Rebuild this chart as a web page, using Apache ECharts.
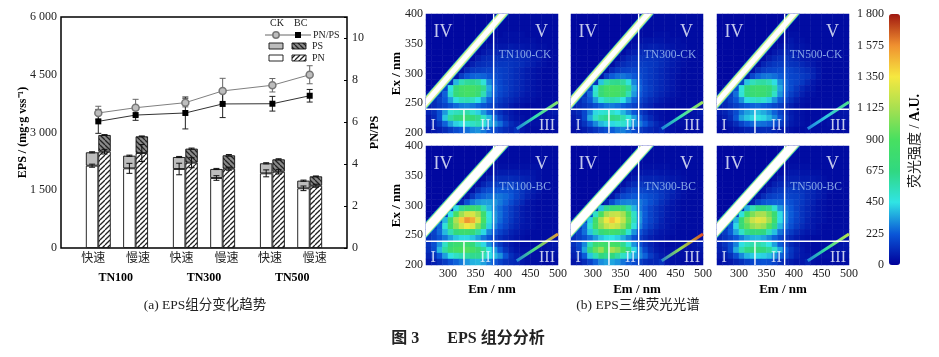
<!DOCTYPE html>
<html>
<head>
<meta charset="utf-8">
<style>html,body{margin:0;padding:0;background:#fff}#chart{width:939px;height:357px}</style>
<script src="https://cdn.jsdelivr.net/npm/echarts@6/dist/echarts.min.js"></script>
</head>
<body>
<div id="chart"></div>
<script>
// 左图 EPS
var slots = ['', '', 'CK', 'BC', '', 'CK', 'BC', '', '', 'CK', 'BC', '', 'CK', 'BC', '', '', 'CK', 'BC', '', 'CK', 'BC', '', ''];
var ckSlots = [2, 5, 9, 12, 16, 19];
var bcSlots = [3, 6, 10, 13, 17, 20];
var pointX = [3, 6, 10, 13, 17, 20];
var speedX = [2.6, 6.2, 9.7, 13.3, 16.8, 20.4];
var speedNames = ['快速', '慢速', '快速', '慢速', '快速', '慢速'];
var groupX = [4.4, 11.5, 18.6];
var groupNames = ['TN100', 'TN300', 'TN500'];
var pnCK = [2138, 2069, 2052, 1818, 1939, 1550];
var psCK = [347, 328, 311, 234, 261, 199];
var pnBC = [2502, 2467, 2216, 2060, 1982, 1618];
var psBC = [433, 433, 364, 347, 321, 243];
var pnErrCK = [40, 130, 150, 60, 90, 60];
var pnErrBC = [60, 220, 130, 40, 60, 40];
var psErrCK = [15, 15, 15, 15, 15, 15];
var psErrBC = [10, 10, 15, 20, 15, 10];
var ratioCK = [6.43, 6.68, 6.92, 7.48, 7.75, 8.25];
var ratioBC = [6.03, 6.33, 6.43, 6.86, 6.87, 7.25];
var ratioErrCK = [0.32, 0.4, 0.2, 0.6, 0.32, 0.43];
var ratioErrBC = [0.57, 0.25, 0.76, 0.65, 0.35, 0.3];

// 右图 荧光, Ex 395->205 每行, Em 265->495 每列
var emCats = [265, 275, 285, 295, 305, 315, 325, 335, 345, 355, 365, 375, 385, 395, 405, 415, 425, 435, 445, 455, 465, 475, 485, 495];
var exCats = [395, 385, 375, 365, 355, 345, 335, 325, 315, 305, 295, 285, 275, 265, 255, 245, 235, 225, 215, 205];
var tn100ck = [
  [20,20,20,20,20,20,20,20,20,20,20,20,30,30,30,30,30,30,30,30,30,30,30,30],
  [20,20,20,20,20,20,20,20,20,20,20,20,30,30,30,30,30,30,30,30,30,30,30,30],
  [20,20,20,20,20,20,20,20,20,20,20,20,30,30,30,30,30,30,30,30,30,30,30,30],
  [20,20,20,20,20,20,20,20,20,20,20,30,30,30,40,40,40,40,30,30,30,30,30,30],
  [20,20,20,20,20,20,20,20,20,20,20,30,40,40,40,40,40,40,40,40,30,30,30,30],
  [20,20,20,20,20,20,20,20,20,20,30,50,60,60,60,70,60,60,50,50,40,40,30,30],
  [20,20,20,20,20,20,20,20,20,30,60,80,90,90,100,100,90,80,70,60,50,40,30,30],
  [20,20,20,20,20,20,20,20,30,70,100,110,120,120,120,120,110,100,90,70,60,40,30,30],
  [20,20,20,20,20,20,20,30,80,110,120,130,140,140,140,130,120,110,90,70,50,40,30,30],
  [20,20,20,20,20,20,40,100,140,150,160,170,170,160,150,130,110,90,70,50,40,30,30,30],
  [20,20,20,20,20,50,150,210,240,250,240,210,190,170,150,130,110,90,70,50,40,30,30,30],
  [20,20,20,40,120,380,560,620,640,600,480,300,220,180,150,130,110,90,70,50,40,30,30,30],
  [20,20,50,170,460,720,840,880,860,800,640,360,240,190,160,130,110,90,70,50,40,30,30,30],
  [40,70,130,240,500,720,820,860,840,760,560,330,230,180,150,120,100,80,60,50,40,30,30,30],
  [70,110,160,220,340,470,540,560,530,450,340,240,190,150,120,100,80,60,50,40,30,30,30,30],
  [80,110,140,170,210,250,280,290,270,240,210,180,150,120,100,70,50,40,30,30,30,30,30,30],
  [90,120,200,330,500,540,560,580,500,420,330,240,170,120,80,60,40,30,30,30,30,40,60,70],
  [60,100,200,400,600,680,720,760,720,640,520,380,260,170,110,70,50,40,30,30,40,40,50,50],
  [60,90,140,240,340,420,460,480,520,560,480,360,320,260,170,110,80,60,40,40,40,40,40,40],
  [40,60,80,110,150,190,220,260,300,320,280,220,180,140,110,90,120,60,40,30,30,30,30,30]
];
var tn300ck = [
  [20,20,20,20,20,20,20,20,20,20,20,20,30,30,30,30,30,30,30,30,30,30,30,30],
  [20,20,20,20,20,20,20,20,20,20,20,20,30,30,30,30,30,30,30,30,30,30,30,30],
  [20,20,20,20,20,20,20,20,20,20,20,20,30,30,30,30,30,30,30,30,30,30,30,30],
  [20,20,20,20,20,20,20,20,20,20,20,30,30,30,30,40,40,40,30,30,30,30,30,30],
  [20,20,20,20,20,20,20,20,20,20,20,30,40,50,50,50,50,40,40,40,30,30,30,30],
  [20,20,20,20,20,20,20,20,20,20,30,50,70,70,80,80,70,60,50,40,40,30,30,30],
  [20,20,20,20,20,20,20,20,20,30,60,80,100,110,110,100,90,80,70,50,40,30,30,30],
  [20,20,20,20,20,20,20,20,30,70,100,120,130,130,130,120,110,90,70,60,40,30,30,30],
  [20,20,20,20,20,20,20,30,80,110,130,140,150,150,140,130,110,90,70,50,40,30,30,30],
  [20,20,20,20,20,20,40,100,140,160,170,180,170,160,140,120,100,80,60,50,30,30,30,30],
  [20,20,20,20,20,50,160,230,260,270,250,220,190,160,140,120,100,80,60,40,30,30,30,30],
  [20,20,20,40,130,400,580,640,650,610,480,300,220,170,140,120,100,80,60,40,30,30,30,30],
  [20,20,50,180,480,740,860,900,880,810,640,360,240,180,150,120,100,80,60,40,30,30,30,30],
  [40,70,130,250,510,730,840,870,850,770,560,330,220,170,140,110,90,70,50,40,30,30,30,30],
  [70,110,160,220,340,480,550,570,540,450,340,240,180,140,110,90,70,50,40,30,30,30,30,30],
  [80,110,130,160,200,240,270,280,260,230,200,170,140,110,90,60,50,40,30,30,30,30,30,30],
  [80,110,180,290,430,480,500,510,450,380,300,220,150,110,70,50,40,30,30,30,30,40,50,70],
  [60,90,180,350,520,600,640,660,640,570,470,340,230,150,100,60,40,30,30,30,40,40,50,50],
  [50,80,130,210,300,380,420,430,480,500,430,320,280,220,150,100,70,50,40,40,40,40,40,40],
  [40,50,70,100,130,170,200,230,270,290,250,190,150,120,100,80,100,50,40,30,30,30,30,30]
];
var tn500ck = [
  [20,20,20,20,20,20,20,20,20,20,20,20,20,20,30,30,30,30,30,30,30,30,30,30],
  [20,20,20,20,20,20,20,20,20,20,20,20,20,20,30,30,30,30,30,30,30,30,30,30],
  [20,20,20,20,20,20,20,20,20,20,20,20,20,30,30,30,30,30,30,30,30,30,30,30],
  [20,20,20,20,20,20,20,20,20,20,20,20,30,40,40,30,30,30,30,30,30,30,30,30],
  [20,20,20,20,20,20,20,20,20,20,20,30,40,60,40,40,30,30,30,30,30,30,30,30],
  [20,20,20,20,20,20,20,20,20,20,30,50,70,70,50,50,40,30,30,30,30,30,30,30],
  [20,20,20,20,20,20,20,20,20,30,60,80,100,90,70,60,50,40,30,30,30,30,30,30],
  [20,20,20,20,20,20,20,20,30,70,100,120,130,110,90,70,60,50,40,30,30,30,30,30],
  [20,20,20,20,20,20,20,30,90,120,140,150,150,130,120,100,80,60,40,30,30,30,30,30],
  [20,20,20,20,20,20,40,110,150,170,180,190,190,170,150,130,110,80,50,30,30,30,30,30],
  [20,20,20,20,20,60,180,240,270,280,260,230,210,180,170,150,130,90,50,30,30,30,30,30],
  [20,20,20,50,160,400,540,590,600,560,440,310,240,190,170,140,100,60,40,30,30,30,30,30],
  [20,30,80,200,470,680,780,810,790,730,590,350,240,190,140,100,70,50,30,30,30,30,30,30],
  [50,90,150,260,480,670,760,790,770,690,520,320,220,160,120,80,50,40,30,30,30,30,30,30],
  [70,110,160,220,320,440,500,520,490,420,320,230,170,120,80,50,40,30,30,30,30,30,30,30],
  [80,100,130,160,190,220,240,250,230,210,180,150,110,80,50,40,30,30,30,30,30,30,30,30],
  [70,90,130,190,280,340,370,390,360,310,240,170,110,70,50,40,30,30,30,30,30,40,50,60],
  [50,70,110,210,340,400,430,460,430,380,300,210,130,80,50,40,30,30,30,30,40,40,50,50],
  [40,50,70,110,170,220,250,270,260,240,200,150,110,70,50,40,30,30,30,30,40,40,40,40],
  [30,30,40,50,70,90,100,110,110,110,90,70,60,40,30,30,40,30,30,30,30,30,30,30]
];
var tn100bc = [
  [20,20,20,20,20,20,20,20,20,20,20,20,30,30,30,30,30,30,30,30,30,30,30,30],
  [20,20,20,20,20,20,20,20,20,20,20,20,30,30,30,30,30,30,30,30,30,30,30,30],
  [20,20,20,20,20,20,20,20,20,20,20,20,30,30,30,30,30,30,30,30,30,30,30,30],
  [20,20,20,20,20,20,20,20,20,20,20,20,40,40,40,40,40,40,40,40,40,30,30,30],
  [20,20,20,20,20,20,20,20,20,20,20,40,60,70,70,70,70,60,60,50,40,30,30,30],
  [20,20,20,20,20,20,20,20,20,20,40,80,100,110,110,110,100,90,80,60,40,30,30,30],
  [20,20,20,20,20,20,20,20,20,40,90,130,150,160,160,160,140,120,90,70,50,30,30,30],
  [20,20,20,20,20,20,20,20,40,110,170,200,210,220,210,200,170,130,100,70,50,30,30,30],
  [20,20,20,20,20,20,20,50,130,210,240,260,270,270,250,220,170,130,90,60,40,30,30,30],
  [20,20,20,20,20,30,90,200,280,320,340,340,320,280,240,190,140,100,60,40,30,30,30,30],
  [20,20,20,30,100,430,640,760,800,740,560,380,300,250,200,150,110,70,50,40,30,30,30,30],
  [20,20,40,120,460,860,1100,1240,1260,1120,800,460,320,260,200,150,110,70,50,40,30,30,30,30],
  [20,60,160,380,800,1140,1420,1560,1500,1260,860,480,320,250,190,140,100,70,50,40,30,30,30,30],
  [70,130,240,480,820,1060,1240,1340,1280,1040,720,420,290,220,170,120,90,60,50,40,30,30,30,30],
  [110,170,250,380,560,700,780,800,740,600,430,300,220,170,130,90,70,50,40,30,30,30,30,30],
  [120,160,210,270,340,400,430,430,400,340,270,210,160,120,90,70,50,40,30,30,30,30,30,30],
  [130,200,320,520,700,780,800,800,700,560,430,310,210,140,90,60,40,30,30,30,30,40,50,60],
  [120,190,380,600,780,860,900,920,860,760,620,460,330,220,130,80,50,40,40,40,40,40,50,50],
  [90,130,220,340,460,520,560,600,640,640,560,440,380,320,210,120,80,60,40,40,40,40,40,40],
  [60,80,110,150,200,240,280,330,370,380,340,280,220,170,130,110,100,60,40,40,40,30,30,30]
];
var tn300bc = [
  [20,20,20,20,20,20,20,20,20,20,20,20,30,30,30,30,30,30,30,30,30,30,30,30],
  [20,20,20,20,20,20,20,20,20,20,20,20,30,30,30,30,30,30,30,30,30,30,30,30],
  [20,20,20,20,20,20,20,20,20,20,20,20,30,30,30,30,30,30,30,30,30,30,30,30],
  [20,20,20,20,20,20,20,20,20,20,20,20,30,40,40,40,40,40,30,30,30,30,30,30],
  [20,20,20,20,20,20,20,20,20,20,20,40,50,60,60,60,50,50,40,40,30,30,30,30],
  [20,20,20,20,20,20,20,20,20,20,40,70,90,90,90,90,80,70,60,50,40,30,30,30],
  [20,20,20,20,20,20,20,20,20,40,80,110,130,130,130,120,110,100,80,60,40,30,30,30],
  [20,20,20,20,20,20,20,20,40,100,140,170,170,170,160,150,130,110,90,60,40,30,30,30],
  [20,20,20,20,20,20,20,50,120,180,200,220,220,210,190,170,140,110,80,60,40,30,30,30],
  [20,20,20,20,20,30,90,190,260,290,300,290,270,240,200,160,120,90,60,40,30,30,30,30],
  [20,20,20,30,110,400,640,760,790,740,600,380,270,220,170,130,100,70,50,40,30,30,30,30],
  [20,20,40,150,520,880,1120,1200,1220,1120,880,520,310,230,170,130,100,70,50,40,30,30,30,30],
  [20,60,180,420,820,1120,1320,1440,1340,1200,950,540,320,220,170,130,90,60,50,40,30,30,30,30],
  [70,130,250,500,840,1060,1200,1260,1220,1080,820,480,290,200,150,110,80,60,40,30,30,30,30,30],
  [110,170,260,400,580,720,800,830,790,670,490,320,210,150,110,80,60,50,40,30,30,30,30,30],
  [120,160,200,260,330,400,440,450,420,360,290,210,150,110,80,60,50,40,30,30,30,30,30,30],
  [120,180,300,560,760,840,800,860,820,640,480,320,200,130,90,60,40,30,30,30,30,40,50,70],
  [100,170,350,660,960,1080,880,1120,1040,880,650,430,280,180,110,70,50,40,40,40,40,40,50,50],
  [80,120,230,400,560,680,640,680,600,520,420,350,300,240,150,100,70,50,40,40,40,40,40,40],
  [50,70,110,170,240,310,340,350,320,270,230,190,160,120,100,100,130,60,40,40,30,30,30,30]
];
var tn500bc = [
  [20,20,20,20,20,20,20,20,20,20,20,20,30,30,30,30,30,30,30,30,30,30,30,30],
  [20,20,20,20,20,20,20,20,20,20,20,20,30,30,30,30,30,30,30,30,30,30,30,30],
  [20,20,20,20,20,20,20,20,20,20,20,20,30,30,30,30,30,30,30,30,30,30,30,30],
  [20,20,20,20,20,20,20,20,20,20,20,20,30,40,40,40,40,30,30,30,30,30,30,30],
  [20,20,20,20,20,20,20,20,20,20,20,40,50,60,60,50,50,40,40,30,30,30,30,30],
  [20,20,20,20,20,20,20,20,20,20,40,70,80,80,80,70,70,60,50,40,30,30,30,30],
  [20,20,20,20,20,20,20,20,20,40,80,100,110,110,110,100,90,80,60,50,30,30,30,30],
  [20,20,20,20,20,20,20,20,40,90,120,140,150,150,140,130,110,90,70,50,40,30,30,30],
  [20,20,20,20,20,20,20,50,110,150,170,180,180,170,160,140,110,90,70,50,30,30,30,30],
  [20,20,20,20,20,30,80,160,210,230,240,240,220,200,170,140,110,80,50,40,30,30,30,30],
  [20,20,20,30,100,360,560,660,690,640,500,330,260,220,170,130,100,70,50,40,30,30,30,30],
  [20,20,40,130,470,800,1020,1120,1130,1000,760,440,290,230,180,130,100,70,50,40,30,30,30,30],
  [20,60,160,370,750,1040,1220,1290,1260,1100,800,440,290,220,170,130,90,60,50,40,30,30,30,30],
  [70,120,220,430,740,950,1080,1140,1090,930,660,380,260,200,150,110,80,60,40,30,30,30,30,30],
  [100,150,230,350,510,640,700,720,670,540,390,270,190,150,110,80,60,50,40,30,30,30,30,30],
  [100,130,170,220,280,340,370,380,350,300,240,180,130,100,70,50,40,30,30,30,30,30,30,30],
  [90,130,190,290,440,530,570,590,540,450,340,230,150,100,70,50,40,30,30,30,30,40,50,60],
  [80,110,190,360,560,660,700,710,680,620,500,350,220,140,90,60,40,30,30,30,40,40,50,50],
  [60,80,120,200,300,380,410,430,420,390,320,240,190,130,80,60,50,40,40,40,40,40,40,40],
  [40,50,60,90,120,160,180,200,210,200,170,120,90,70,50,60,90,40,30,30,30,30,30,30]
];
var panelNames = ['TN100-CK', 'TN300-CK', 'TN500-CK', 'TN100-BC', 'TN300-BC', 'TN500-BC'];
var panelValues = [tn100ck, tn300ck, tn500ck, tn100bc, tn300bc, tn500bc];
var bandCK = [250, 241, 410, 411];
var bandBC = [250, 249, 410, 413];
var secondOrder = [[425, 207], [500, 252]];
var secondColors = [
  ['#1c78e0', '#36e0b0', '#8fe060'],
  ['#1c78e0', '#36e0b0', '#a8e050'],
  ['#1c78e0', '#30c8e0', '#50e080'],
  ['#1c78e0', '#50e080', '#f09030'],
  ['#1c78e0', '#90e050', '#e84020'],
  ['#1c78e0', '#36e0a0', '#c8e040']
];
var lineEm380 = [[383, 200], [383, 400]];
var lineEm330 = [[329, 200], [329, 240]];
var lineEx240 = [[260, 240], [500, 240]];
var regionLabels = [['IV', 291, 370, 18], ['V', 470, 370, 18], ['I', 273, 212, 16], ['II', 368, 212, 16], ['III', 480, 212, 16]];
var heatColors = ['#00009a', '#0a58d8', '#30e4e4', '#30d880', '#48e060', '#a8e050', '#f6e840', '#f09030', '#a01810'];

var font = '"Liberation Serif","Noto Sans CJK SC",serif';

function thousand(v) {
  var s = String(v);
  return s.length > 3 ? s.slice(0, s.length - 3) + ' ' + s.slice(-3) : s;
}
// 斜线填充
function hatch(bg, fg, back) {
  var c = document.createElement('canvas');
  c.width = 5; c.height = 5;
  var g = c.getContext('2d');
  g.fillStyle = bg; g.fillRect(0, 0, 5, 5);
  g.strokeStyle = fg; g.lineWidth = 1.3;
  for (var i = -5; i <= 10; i += 5) {
    g.beginPath();
    if (back) { g.moveTo(i, 0); g.lineTo(i + 5, 5); } else { g.moveTo(i + 5, 0); g.lineTo(i, 5); }
    g.stroke();
  }
  return { image: c, repeat: 'repeat' };
}
var fillPnBC = hatch('#ffffff', '#222222', false);
var fillPsBC = hatch('#8a8a8a', '#222222', true);

function toSlots(where, vals) {
  var out = slots.map(function () { return null; });
  where.forEach(function (s, i) { out[s] = vals[i]; });
  return out;
}
function errRows(xs, base, err) {
  return xs.map(function (x, i) { return [x, base[i] - err[i], base[i] + err[i]]; });
}
function errorSeries(data, yIndex, color) {
  return {
    type: 'custom', xAxisIndex: 1, yAxisIndex: yIndex, silent: true, z: 5, clip: false,
    encode: { x: 0, y: [1, 2] }, data: data,
    renderItem: function (params, api) {
      var lo = api.coord([api.value(0), api.value(1)]);
      var hi = api.coord([api.value(0), api.value(2)]);
      var st = { stroke: color, lineWidth: 1, fill: null };
      return {
        type: 'group', children: [
          { type: 'line', shape: { x1: lo[0], y1: lo[1], x2: hi[0], y2: hi[1] }, style: st },
          { type: 'line', shape: { x1: lo[0] - 3, y1: lo[1], x2: lo[0] + 3, y2: lo[1] }, style: st },
          { type: 'line', shape: { x1: hi[0] - 3, y1: hi[1], x2: hi[0] + 3, y2: hi[1] }, style: st }
        ]
      };
    }
  };
}
function barSeries(name, where, vals, fill) {
  return {
    name: name, type: 'bar', stack: 'eps', xAxisIndex: 0, yAxisIndex: 0, barWidth: '100%',
    itemStyle: { color: fill, borderColor: '#111', borderWidth: 0.9 },
    data: toSlots(where, vals)
  };
}
// 瑞利散射带, 用 custom 才能裁到面板内
function bandSeries(xi, yi, band, color, width) {
  return {
    type: 'custom', xAxisIndex: xi, yAxisIndex: yi, silent: true, z: 2, clip: true,
    encode: { x: [0, 2], y: [1, 3] }, data: [band],
    renderItem: function (params, api) {
      var a = api.coord([api.value(0), api.value(1)]);
      var b = api.coord([api.value(2), api.value(3)]);
      var dx = b[0] - a[0], dy = b[1] - a[1];
      var len = Math.sqrt(dx * dx + dy * dy);
      var nx = -dy / len * width / 2, ny = dx / len * width / 2;
      return {
        type: 'polygon',
        shape: { points: [[a[0] + nx, a[1] + ny], [b[0] + nx, b[1] + ny], [b[0] - nx, b[1] - ny], [a[0] - nx, a[1] - ny]] },
        style: { fill: color }
      };
    }
  };
}
var ckCenters = ckSlots.map(function (s) { return s + 0.5; });
var bcCenters = bcSlots.map(function (s) { return s + 0.5; });
var totalCK = pnCK.map(function (v, i) { return v + psCK[i]; });
var totalBC = pnBC.map(function (v, i) { return v + psBC[i]; });

var grids = [{ left: 61, top: 17, width: 286, height: 231, show: true, borderColor: '#000', borderWidth: 1.5, backgroundColor: 'transparent' }];
var xAxes = [
  { gridIndex: 0, type: 'category', data: slots, show: false },
  {
    gridIndex: 0, type: 'value', min: 0, max: 23, position: 'bottom',
    axisLine: { show: false, onZero: false }, axisTick: { show: false }, splitLine: { show: false },
    axisLabel: {
      customValues: speedX, margin: 5, fontFamily: font, fontSize: 12, color: '#222',
      formatter: function (v) { return speedNames[speedX.indexOf(v)]; }
    }
  },
  {
    gridIndex: 0, type: 'value', min: 0, max: 23, position: 'bottom', offset: 19,
    axisLine: { show: false, onZero: false }, axisTick: { show: false }, splitLine: { show: false },
    axisLabel: {
      customValues: groupX, margin: 5, fontFamily: font, fontSize: 12, fontWeight: 'bold', color: '#000',
      formatter: function (v) { return groupNames[groupX.indexOf(v)]; }
    }
  }
];
var yAxes = [
  {
    gridIndex: 0, type: 'value', min: 0, max: 6000, interval: 1500, position: 'left',
    name: 'EPS / (mg·g vss⁻¹)', nameLocation: 'middle', nameGap: 32, nameMoveOverlap: false,
    nameTextStyle: { fontFamily: font, fontSize: 12, fontWeight: 'bold', color: '#000' },
    axisLine: { show: false, onZero: false }, axisTick: { show: false }, splitLine: { show: false },
    axisLabel: { fontFamily: font, fontSize: 12, color: '#222', margin: 4, formatter: thousand }
  },
  {
    gridIndex: 0, type: 'value', min: 0, max: 11, interval: 2, position: 'right',
    name: 'PN/PS', nameLocation: 'middle', nameGap: 22, nameRotate: 90,
    nameTextStyle: { fontFamily: font, fontSize: 12, fontWeight: 'bold', color: '#000' },
    axisLine: { show: false, onZero: false }, splitLine: { show: false },
    axisTick: { show: true, inside: true, length: 3, lineStyle: { color: '#000' } },
    axisLabel: { fontFamily: font, fontSize: 12, color: '#222', margin: 5, customValues: [0, 2, 4, 6, 8, 10] }
  }
];
var series = [
  barSeries('PN-CK', ckSlots, pnCK, '#ffffff'),
  barSeries('PS-CK', ckSlots, psCK, '#bdbdbd'),
  barSeries('PN-BC', bcSlots, pnBC, fillPnBC),
  barSeries('PS-BC', bcSlots, psBC, fillPsBC),
  errorSeries(errRows(ckCenters, pnCK, pnErrCK), 0, '#111'),
  errorSeries(errRows(bcCenters, pnBC, pnErrBC), 0, '#111'),
  errorSeries(errRows(ckCenters, totalCK, psErrCK), 0, '#111'),
  errorSeries(errRows(bcCenters, totalBC, psErrBC), 0, '#111'),
  errorSeries(errRows(pointX, ratioCK, ratioErrCK), 1, '#666'),
  errorSeries(errRows(pointX, ratioBC, ratioErrBC), 1, '#222'),
  {
    name: 'CK', type: 'line', xAxisIndex: 1, yAxisIndex: 1, z: 6, symbol: 'circle', symbolSize: 7,
    lineStyle: { color: '#808080', width: 1 },
    itemStyle: { color: '#bdbdbd', borderColor: '#777', borderWidth: 1.5 },
    data: pointX.map(function (x, i) { return [x, ratioCK[i]]; })
  },
  {
    name: 'BC', type: 'line', xAxisIndex: 1, yAxisIndex: 1, z: 6, symbol: 'rect', symbolSize: 6,
    lineStyle: { color: '#333', width: 1 },
    itemStyle: { color: '#000' },
    data: pointX.map(function (x, i) { return [x, ratioBC[i]]; })
  }
];

// 六个荧光面板
var panelLeft = [426, 571, 717];
var panelTop = [14, 146];
var heatIndex = [];
panelNames.forEach(function (name, p) {
  var col = p % 3, row = p < 3 ? 0 : 1;
  var g = grids.length;
  grids.push({ left: panelLeft[col], top: panelTop[row], width: 132, height: 119 });
  var xCat = xAxes.length, yCat = yAxes.length;
  xAxes.push({ gridIndex: g, type: 'category', data: emCats, show: false });
  yAxes.push({ gridIndex: g, type: 'category', data: exCats, inverse: true, show: false });
  var xVal = xAxes.length, yVal = yAxes.length;
  xAxes.push({
    gridIndex: g, type: 'value', min: 260, max: 500, position: 'bottom',
    show: row === 1,
    name: 'Em / nm', nameLocation: 'middle', nameGap: 18,
    nameTextStyle: { fontFamily: font, fontSize: 13, fontWeight: 'bold', color: '#000' },
    axisLine: { show: false, onZero: false }, axisTick: { show: false }, splitLine: { show: false },
    axisLabel: {
      customValues: [300, 350, 400, 450, 500], fontFamily: font, fontSize: 12, color: '#222', margin: 3
    }
  });
  yAxes.push({
    gridIndex: g, type: 'value', min: 200, max: 400, interval: 50, position: 'left', show: col === 0,
    name: 'Ex / nm', nameLocation: 'middle', nameGap: 23, nameMoveOverlap: false,
    nameTextStyle: { fontFamily: font, fontSize: 13, fontWeight: 'bold', color: '#000' },
    axisLine: { show: false, onZero: false }, axisTick: { show: false }, splitLine: { show: false },
    axisLabel: { fontFamily: font, fontSize: 12, color: '#222', margin: 3 }
  });
  var cells = [];
  panelValues[p].forEach(function (r, ri) {
    r.forEach(function (v, ci) { if (ci < emCats.length) cells.push([ci, ri, v]); });
  });
  heatIndex.push(series.length);
  series.push({ type: 'heatmap', xAxisIndex: xCat, yAxisIndex: yCat, silent: true, data: cells, z: 1 });

  function overlay(data, color, width, z) {
    series.push({
      type: 'line', xAxisIndex: xVal, yAxisIndex: yVal, silent: true, showSymbol: false, symbol: 'none', z: z,
      lineStyle: { color: color, width: width, cap: 'butt' }, data: data
    });
  }
  var band = row === 0 ? bandCK : bandBC;
  series.push(bandSeries(xVal, yVal, band, '#30c8c8', row === 0 ? 9 : 11));
  series.push(bandSeries(xVal, yVal, band, '#d8f090', row === 0 ? 7.5 : 9.5));
  series.push(bandSeries(xVal, yVal, band, '#ffffff', row === 0 ? 5 : 8));
  overlay(secondOrder, new echarts.graphic.LinearGradient(0, 0, 1, 0, [
    { offset: 0, color: secondColors[p][0] },
    { offset: 0.45, color: secondColors[p][1] },
    { offset: 1, color: secondColors[p][2] }
  ]), 3, 2);
  overlay(lineEm380, '#ffffff', 1.4, 3);
  overlay(lineEm330, '#ffffff', 1.4, 3);
  overlay(lineEx240, '#ffffff', 1.4, 3);
  regionLabels.forEach(function (r) {
    series.push({
      type: 'scatter', xAxisIndex: xVal, yAxisIndex: yVal, silent: true, symbolSize: 1, z: 4,
      itemStyle: { color: 'transparent' },
      label: { show: true, position: 'inside', formatter: r[0], fontFamily: font, fontSize: r[3], color: '#f4f8ff' },
      data: [[r[1], r[2]]]
    });
  });
  series.push({
    type: 'scatter', xAxisIndex: xVal, yAxisIndex: yVal, silent: true, symbolSize: 1, z: 4,
    itemStyle: { color: 'transparent' },
    label: { show: true, position: 'inside', formatter: name, fontFamily: font, fontSize: 11.5, color: '#a8c8f4' },
    data: [[440, 331]]
  });
});

// 色标
var barGrid = grids.length;
grids.push({ left: 889, top: 14, width: 11, height: 251 });
xAxes.push({ gridIndex: barGrid, type: 'value', show: false });
yAxes.push({
  gridIndex: barGrid, type: 'value', min: 0, max: 1800, interval: 225, position: 'left',
  axisLine: { show: false, onZero: false }, axisTick: { show: false }, splitLine: { show: false },
  axisLabel: { fontFamily: font, fontSize: 12, color: '#222', margin: 5, formatter: thousand }
});

function legendRect(x, y, fill) {
  return { type: 'rect', shape: { x: x, y: y, width: 14, height: 6 }, style: { fill: fill, stroke: '#111', lineWidth: 0.9 } };
}
function legendText(x, y, t) {
  return { type: 'text', x: x, y: y, style: { text: t, font: '10px ' + font, fill: '#222', textVerticalAlign: 'middle' } };
}
function caption(x, y, t, f) {
  return { type: 'text', x: x, y: y, style: { text: t, font: f, fill: '#222', textAlign: 'center', textVerticalAlign: 'middle' } };
}
var graphics = [
  legendText(270, 23, 'CK'), legendText(294, 23, 'BC'),
  { type: 'line', shape: { x1: 265, y1: 35, x2: 311, y2: 35 }, style: { stroke: '#666', lineWidth: 1 } },
  { type: 'circle', shape: { cx: 276, cy: 35, r: 3.2 }, style: { fill: '#bdbdbd', stroke: '#777', lineWidth: 1.5 } },
  { type: 'rect', shape: { x: 295, y: 32, width: 6, height: 6 }, style: { fill: '#000' } },
  legendText(313, 35, 'PN/PS'),
  legendRect(269, 43, '#bdbdbd'), legendRect(292, 43, fillPsBC), legendText(312, 46, 'PS'),
  legendRect(269, 55, '#ffffff'), legendRect(292, 55, fillPnBC), legendText(312, 58, 'PN'),
  caption(205, 305, '(a) EPS组分变化趋势', '13.5px ' + font),
  caption(638, 305, '(b) EPS三维荧光光谱', '13.5px ' + font),
  caption(468, 339, '图 3       EPS 组分分析', 'bold 16px ' + font),
  {
    type: 'text', x: 915, y: 141, rotation: Math.PI / 2,
    style: {
      text: '{a|荧光强度 / }{b|A.U.}', textAlign: 'center', textVerticalAlign: 'middle',
      rich: {
        a: { font: '14px ' + font, fill: '#222' },
        b: { font: 'bold 14px ' + font, fill: '#000' }
      }
    }
  }
];

var chart = echarts.init(document.getElementById('chart'));
chart.setOption({
  animation: false,
  backgroundColor: '#fff',
  textStyle: { fontFamily: font },
  grid: grids,
  xAxis: xAxes,
  yAxis: yAxes,
  visualMap: {
    type: 'continuous', min: 0, max: 1800, seriesIndex: heatIndex, show: true, calculable: false, realtime: false,
    left: 889, top: 14, padding: 0, itemWidth: 11, itemHeight: 251, text: ['', ''], showLabel: false, hoverLink: false,
    inRange: { color: heatColors }
  },
  graphic: graphics,
  series: series
});
</script>
</body>
</html>
